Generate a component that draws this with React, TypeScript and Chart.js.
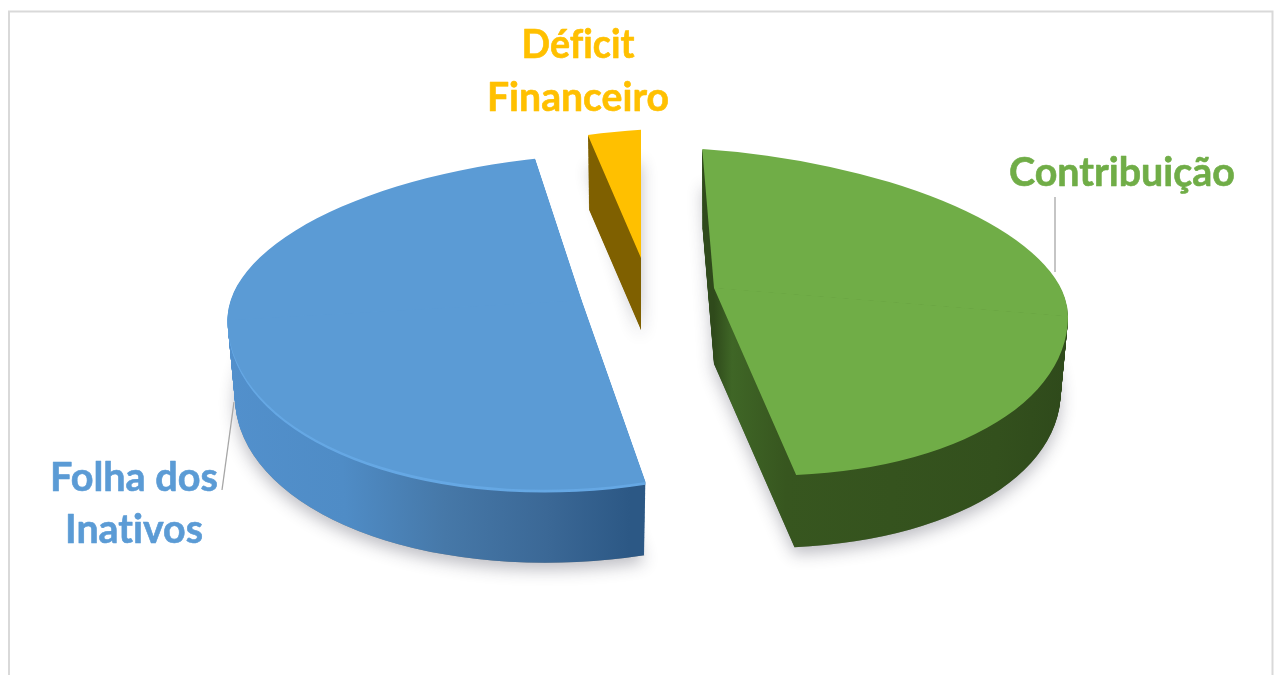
import React, { useEffect, useRef } from "react";
import { Chart, registerables } from "chart.js";

Chart.register(...registerables);

const categories = ["Contribuição", "Folha dos Inativos", "Déficit Financeiro"];
const values = [46.8, 50.8, 2.4];
const faceColors = ["#70ad47", "#5b9bd5", "#ffc000"];
const labelLines = [["Contribuição"], ["Folha dos", "Inativos"], ["Déficit", "Financeiro"]];

// view of each slice: centre, shear, squash above/below the centre, turn, thickness
const views = [
  { cx: 714, cy: 288, k: 0.08, syT: 0.39, syB: 0.524, rot: -0.4, depth: 76 },
  { cx: 581.5, cy: 300, k: -0.056, syT: 0.41, syB: 0.533, rot: 2.6, depth: 77 },
  { cx: 641, cy: 258, k: -0.068, syT: 0.362, syB: 0.5, rot: 1.5, depth: 72 },
];
const wallStops = [
  [[0, "#2f4a1b"], [0.05, "#3f6626"], [0.2, "#37561f"], [0.8, "#33501d"], [1, "#2f4a1b"]],
  [[0, "#5290cc"], [0.3, "#4f8cc6"], [0.55, "#4678a8"], [0.8, "#3b6896"], [1, "#2c5885"]],
  [[0, "#7f6000"], [1, "#7f6000"]],
];
const labelPlace = [
  { x: 1122, y: [186], w: [226], size: 40 },
  { x: 134, y: [491, 543], w: [168, 138], size: 40 },
  { x: 578, y: [58, 111], w: [113, 182], size: 40 },
];
const leaders = [
  [[1055, 197], [1055, 272]],
  [[222, 490], [234, 402]],
];

const paintPart = (ctx: any, arc: any, v: any, depth: number, part: string, fill: any) => {
  const upper = part === "upper";
  const shadow = part === "shadow";
  ctx.save();
  ctx.translate(v.cx, v.cy + depth);
  ctx.transform(1, v.k, 0, upper ? v.syT : v.syB, 0, 0);
  const s = 1 - depth * 0.00027;
  ctx.scale(s, s);
  if (!shadow) {
    ctx.beginPath();
    if (upper) ctx.rect(-3000, -3000, 6000, 3000.6);
    else ctx.rect(-3000, -0.6, 6000, 3000);
    ctx.clip();
  } else {
    ctx.shadowColor = "rgba(40,40,60,0.3)";
    ctx.shadowBlur = 16;
    ctx.shadowOffsetY = 7;
  }
  ctx.rotate((v.rot * Math.PI) / 180);
  ctx.translate(-arc.x, -arc.y);
  const saved = arc.options;
  arc.options = { ...saved, backgroundColor: fill, borderWidth: 0, offset: 0, spacing: 0 };
  arc.draw(ctx);
  arc.options = saved;
  ctx.restore();
};

const pie3d = {
  id: "pie3d",
  beforeDatasetsDraw(chart: any) {
    const ctx = chart.ctx;
    const arcs = chart.getDatasetMeta(0).data;
    // frame
    ctx.save();
    ctx.strokeStyle = "#d9d9d9";
    ctx.lineWidth = 2;
    ctx.beginPath();
    ctx.moveTo(9, 675);
    ctx.lineTo(9, 11.5);
    ctx.lineTo(1272.5, 11.5);
    ctx.lineTo(1272.5, 675);
    ctx.stroke();
    ctx.restore();

    arcs.forEach((arc: any, i: number) => {
      const v = views[i];
      paintPart(ctx, arc, v, v.depth, "shadow", "#8a8a8a");
    });
    arcs.forEach((arc: any, i: number) => {
      const v = views[i];
      const R = arc.outerRadius;
      const g = ctx.createLinearGradient(arc.x - (i === 1 ? R : 0), 0, arc.x + (i === 1 ? 65 : R), 0);
      (wallStops[i] as any[]).forEach(([p, c]) => g.addColorStop(p, c));
      for (let d = v.depth; d >= 1; d--) {
        paintPart(ctx, arc, v, d, "lower", g);
        paintPart(ctx, arc, v, d, "upper", g);
      }
      if (i === 1) {
        for (let d = 3; d >= 1; d--) {
          paintPart(ctx, arc, v, d, "lower", "#66a8e4");
          paintPart(ctx, arc, v, d, "upper", "#66a8e4");
        }
      }
      paintPart(ctx, arc, v, 0, "lower", faceColors[i]);
      paintPart(ctx, arc, v, 0, "upper", faceColors[i]);
    });

    // leader lines
    ctx.save();
    ctx.strokeStyle = "#a6a6a6";
    ctx.lineWidth = 1.3;
    leaders.forEach(([a, b]) => {
      ctx.beginPath();
      ctx.moveTo(a[0], a[1]);
      ctx.lineTo(b[0], b[1]);
      ctx.stroke();
    });
    ctx.restore();

    // slice labels
    ctx.save();
    ctx.textAlign = "center";
    ctx.textBaseline = "alphabetic";
    ctx.letterSpacing = "0.01px";
    ctx.lineJoin = "round";
    labelLines.forEach((lines, i) => {
      const p = labelPlace[i];
      ctx.font = `bold ${p.size}px Lato, "Open Sans", sans-serif`;
      ctx.fillStyle = faceColors[i];
      ctx.strokeStyle = faceColors[i];
      ctx.lineWidth = 0.6;
      lines.forEach((t, j) => {
        ctx.fillText(t, p.x, p.y[j], p.w[j]);
        ctx.strokeText(t, p.x, p.y[j], p.w[j]);
      });
    });
    ctx.restore();
    return false;
  },
};

export default function App() {
  const ref = useRef<HTMLCanvasElement>(null);
  useEffect(() => {
    const chart = new Chart(ref.current as HTMLCanvasElement, {
      type: "pie",
      data: {
        labels: categories,
        datasets: [{ data: values, backgroundColor: faceColors, borderWidth: 0, radius: 354 } as any],
      },
      options: {
        responsive: false,
        animation: false,
        rotation: -1.5,
        plugins: { legend: { display: false }, tooltip: { enabled: false } },
      } as any,
      plugins: [pie3d],
    });
    return () => chart.destroy();
  }, []);
  return (
    <div style={{ position: "absolute", left: 0, top: 0, width: 1277, height: 675, background: "#fff", overflow: "hidden" }}>
      <canvas ref={ref} width={1277} height={675} style={{ display: "block" }} />
    </div>
  );
}
